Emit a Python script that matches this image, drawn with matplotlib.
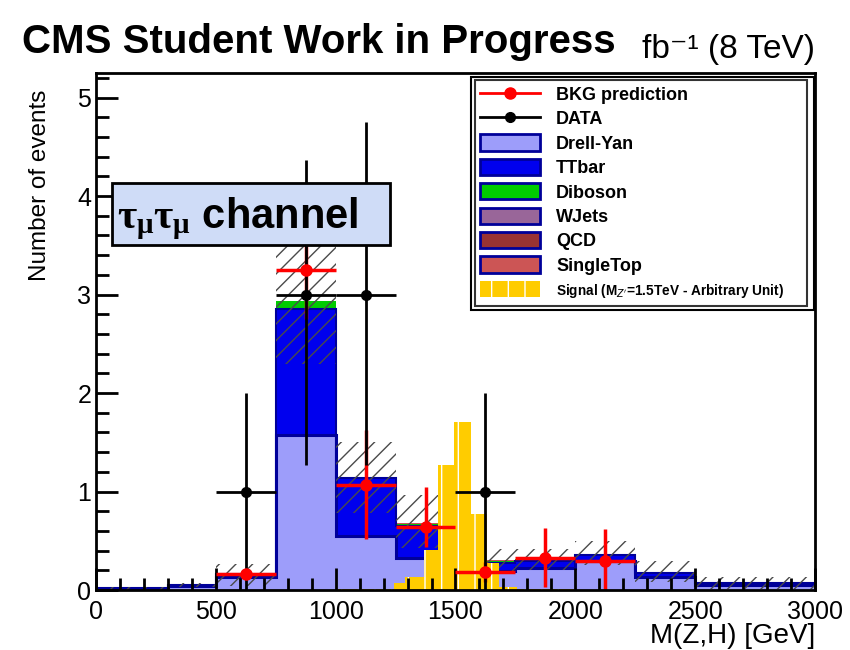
import matplotlib
matplotlib.use('Agg')
from matplotlib import pyplot as plt
from matplotlib.patches import Patch, Rectangle
from matplotlib.lines import Line2D
from matplotlib.ticker import MultipleLocator
import numpy as np

plt.rcParams['font.family'] = ['Liberation Sans', 'DejaVu Sans']
plt.rcParams['mathtext.fontset'] = 'custom'
plt.rcParams['mathtext.it'] = 'Liberation Serif:bold'
plt.rcParams['mathtext.rm'] = 'Liberation Serif:bold'
plt.rcParams['hatch.linewidth'] = 1.0

# background bins (GeV)
edges = [0, 300, 500, 750, 1000, 1250, 1500, 1750, 2000, 2250, 2500, 3000]

# stacked backgrounds, per bin
drell_yan = [0.012, 0.04, 0.13, 1.57, 0.55, 0.33, 0.19, 0.22, 0.29, 0.13, 0.055]
ttbar = [0.004, 0.01, 0.03, 1.28, 0.59, 0.32, 0.08, 0.07, 0.07, 0.045, 0.02]
diboson = [0.0, 0.0, 0.005, 0.08, 0.01, 0.02, 0.02, 0.02, 0.005, 0.0, 0.0]
wjets = [0.0, 0.0, 0.0, 0.005, 0.0, 0.005, 0.0, 0.0, 0.0, 0.0, 0.0]
qcd = [0.0] * 11
singletop = [0.0, 0.0, 0.0, 0.0, 0.0, 0.005, 0.01, 0.005, 0.0, 0.0, 0.0]

# uncertainty band on the background
band_lo = [0.005, 0.03, 0.04, 2.30, 0.78, 0.43, 0.17, 0.20, 0.25, 0.08, 0.01]
band_hi = [0.03, 0.07, 0.26, 3.55, 1.50, 0.96, 0.42, 0.42, 0.50, 0.29, 0.13]

# BKG prediction points
pred_x = [625, 875, 1125, 1375, 1625, 1875, 2125]
pred_y = [0.16, 3.25, 1.07, 0.64, 0.18, 0.33, 0.29]
pred_lo = [0.05, 0.5, 0.55, 0.20, 0.10, 0.30, 0.29]
pred_hi = [0.05, 0.5, 0.55, 0.41, 0.10, 0.30, 0.33]

# data points
data_x = [625, 875, 1125, 1625]
data_y = [1, 3, 3, 1]
data_lo = [1.0, 1.73, 1.73, 1.0]
data_hi = [1.0, 1.37, 1.75, 1.0]
half_bin = 125

# signal (arbitrary units)
sig_edges = [1000, 1245, 1290, 1370, 1425, 1495, 1565, 1630, 1680, 1755, 2000]
sig_vals = [0.01, 0.07, 0.13, 0.41, 1.27, 1.71, 0.77, 0.27, 0.03, 0.01]

labels = ['BKG prediction', 'DATA', 'Drell-Yan', 'TTbar', 'Diboson', 'WJets',
          'QCD', 'SingleTop', "Signal (M$_{Z'}$=1.5TeV - Arbitrary Unit)"]

navy = '#000099'
colors = ['#9d9dfa', '#0000ee', '#00cc00', '#996699', '#993333', '#cc5555']

fig = plt.figure(figsize=(8.5, 6.5), dpi=100)
ax = fig.add_axes([96/850, 1-590/650, 719/850, 517/650])

edges = np.array(edges, dtype=float)
widths = np.diff(edges)
centers = edges[:-1] + widths/2

# stack
comps = [drell_yan, ttbar, diboson, wjets, qcd, singletop]
bottom = np.zeros(len(widths))
tops = []
for vals, c in zip(comps, colors):
    top = bottom + np.array(vals)
    ax.stairs(top, edges, baseline=bottom, fill=True, color=c, lw=0)
    tops.append(top)
    bottom = top
ax.stairs(tops[0], edges, baseline=None, color=navy, lw=2.2)
ax.stairs(tops[1], edges, baseline=None, color=navy, lw=1.5)

# uncertainty band
ax.bar(centers, np.array(band_hi) - np.array(band_lo), widths, bottom=band_lo,
       fill=False, hatch='//', edgecolor='#4a4a4a', lw=0)

# signal
sig_edges = np.array(sig_edges, dtype=float)
sw = np.diff(sig_edges)
ax.bar(sig_edges[:-1], sig_vals, sw, align='edge', color='#ffcc00',
       edgecolor='white', hatch='|', lw=0)

# prediction and data
ax.errorbar(pred_x, pred_y, xerr=half_bin, yerr=[pred_lo, pred_hi], fmt='o',
            color='red', ms=8, lw=2.5, capsize=0)
ax.errorbar(data_x, data_y, xerr=half_bin, yerr=[data_lo, data_hi], fmt='o',
            color='black', ms=7, lw=2, capsize=0)

ax.set_xlim(0, 3000)
ax.set_ylim(0, 5.25)
ax.xaxis.set_major_locator(MultipleLocator(500))
ax.xaxis.set_minor_locator(MultipleLocator(100))
ax.yaxis.set_major_locator(MultipleLocator(1))
ax.yaxis.set_minor_locator(MultipleLocator(0.2))
ax.tick_params(which='both', direction='in', width=2, labelsize=18)
ax.tick_params(which='major', length=16)
ax.tick_params(which='minor', length=9)
ax.tick_params(axis='x', pad=7)
for s in ax.spines.values():
    s.set_linewidth(2)

# channel label
ax.add_patch(Rectangle((0.0223, 0.667), 0.387, 0.12, transform=ax.transAxes,
                       facecolor='#cfdcf7', edgecolor='black', lw=2, zorder=5))
ax.text(0.029, 0.700, r'$\tau_{\mu}\tau_{\mu}$ channel', transform=ax.transAxes,
        fontsize=30, fontweight='bold', ha='left', va='baseline', zorder=6)

# legend
handles = [Line2D([], [], color='red', marker='o', lw=2, ms=8),
           Line2D([], [], color='black', marker='o', lw=2, ms=7)]
for c in colors:
    handles.append(Patch(facecolor=c, edgecolor=navy, lw=2))
handles.append(Patch(facecolor='#ffcc00', edgecolor='white', hatch='|', lw=0))
leg = ax.legend(handles, labels, loc='upper left',
                bbox_to_anchor=(0.527, 0.549, 0.462, 0.437), mode='expand',
                frameon=True, fancybox=False, edgecolor='black',
                prop={'weight': 'bold', 'size': 13}, handlelength=3.3,
                handleheight=1.0, labelspacing=0.34, borderpad=0.3,
                handletextpad=0.9, borderaxespad=0)
leg.get_frame().set_linewidth(1.5)
leg.set_zorder(7)
leg.get_texts()[-1].set_fontsize(9.8)
leg.get_texts()[-1].set_math_fontfamily('dejavusans')
ax.add_patch(Rectangle((0.522, 0.541), 0.476, 0.452, transform=ax.transAxes,
                       fill=False, edgecolor='black', lw=1.5, zorder=8))

fig.text(22/850, 1-53/650, 'CMS Student Work in Progress', fontsize=29,
         fontweight='bold', ha='left', va='baseline')
fig.text(815/850, 1-58/650, 'fb\u207b\u00b9 (8 TeV)', fontsize=24,
         ha='right', va='baseline')
fig.text(40/850, 1-90/650, 'Number of events', fontsize=17.5, rotation=90,
         ha='center', va='top')
fig.text(815/850, 1-643/650, 'M(Z,H) [GeV]', fontsize=20, ha='right',
         va='baseline')

plt.savefig('out.png', dpi=100)
